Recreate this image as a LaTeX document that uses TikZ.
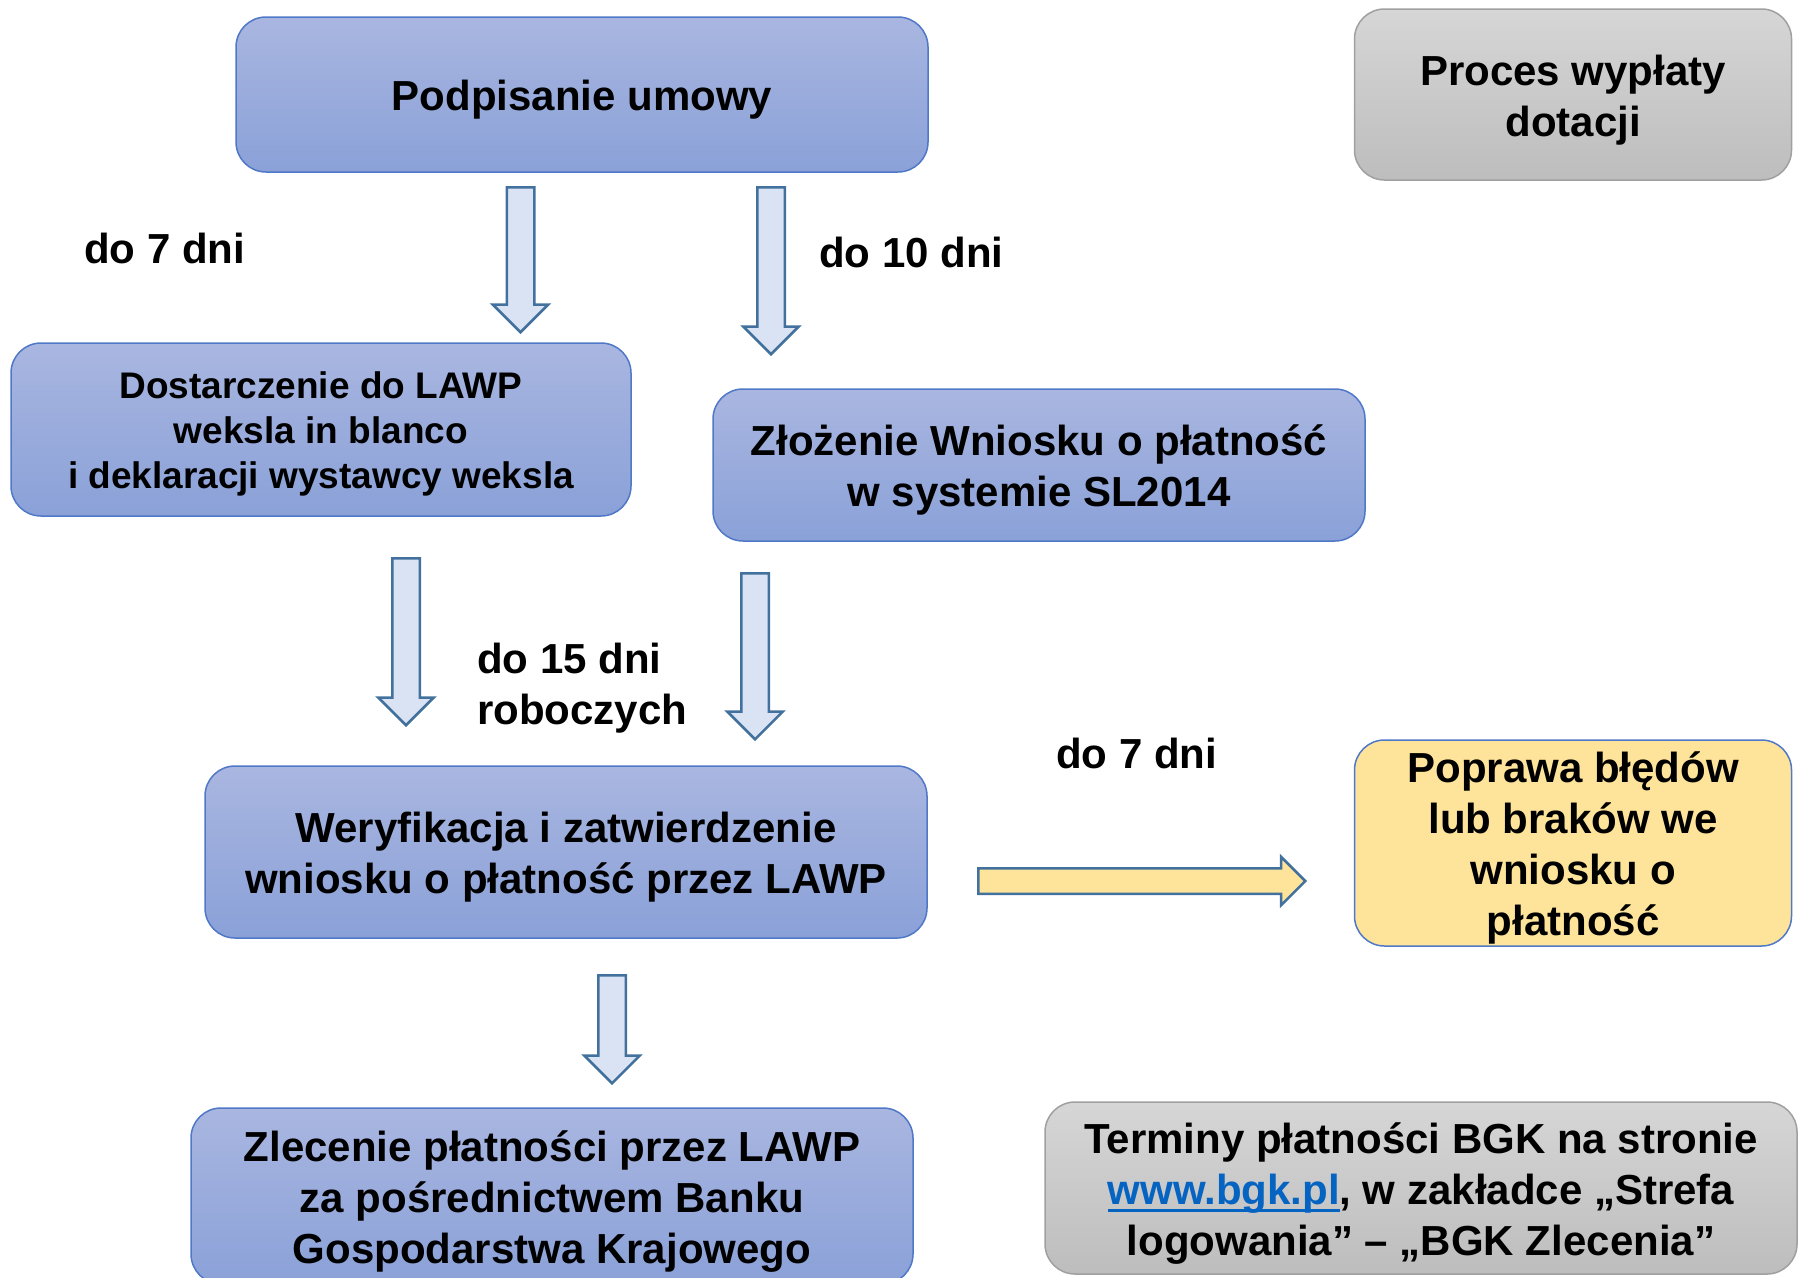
\documentclass[tikz,border=0pt]{standalone}
\usepackage{fontspec}
\setmainfont{Liberation Sans}
\usetikzlibrary{shapes.arrows}
\definecolor{boxtop}{RGB}{169,182,224}
\definecolor{boxbottom}{RGB}{138,161,216}
\definecolor{boxline}{RGB}{80,120,200}
\definecolor{graytop}{RGB}{214,214,214}
\definecolor{graybottom}{RGB}{189,189,189}
\definecolor{grayline}{RGB}{160,160,160}
\definecolor{paleyellow}{RGB}{254,228,154}
\definecolor{paleblue}{RGB}{218,227,243}
\definecolor{arrowline}{RGB}{65,113,156}
\definecolor{linkblue}{RGB}{5,99,193}
\newcommand\linkline[1]{\setbox0\hbox{#1}\rlap{\vrule width\wd0 height -5pt depth 8pt}\box0}
\newcommand\topstrut{\vrule width 0pt height 1.02em}
\newcommand\botstrut{\vrule width 0pt height 0pt depth 0.24em}

\begin{document}
\begin{tikzpicture}[x=1pt, y=-1pt,
        stepbox/.style={rectangle, rounded corners=30pt, draw=boxline, line width=1.5pt,
            top color=boxtop, bottom color=boxbottom, inner sep=0pt, align=center,
            font=\bfseries\fontsize{42}{51}\selectfont},
        graybox/.style={stepbox, draw=grayline, top color=graytop, bottom color=graybottom},
        notebox/.style={stepbox, top color=paleyellow, bottom color=paleyellow},
        daylabel/.style={inner sep=0pt, align=left, font=\bfseries\fontsize{42}{51}\selectfont},
        downarrow/.style={single arrow, draw=arrowline, line width=2.5pt, fill=paleblue,
            inner xsep=0pt, inner ysep=12.5pt, single arrow head extend=14pt,
            rotate=-90, anchor=tail}]
        \useasboundingbox (0,0) rectangle (1798,1277);
        % boxes
        \node[stepbox, minimum width=692pt, minimum height=155pt] (podpisanie) at (582,94.5)
            {\topstrut Podpisanie umowy\botstrut};
        \node[graybox, minimum width=437pt, minimum height=171pt] (proces) at (1573,94.5)
            {\topstrut Proces wypłaty\\dotacji\botstrut};
        \node[stepbox, minimum width=620pt, minimum height=173pt,
            font=\bfseries\fontsize{37}{45}\selectfont] (dostarczenie) at (321,429.5)
            {\topstrut Dostarczenie do LAWP\\weksla in blanco\\i deklaracji wystawcy weksla\botstrut};
        \node[stepbox, minimum width=652pt, minimum height=152pt] (zlozenie) at (1039,465)
            {\topstrut Złożenie Wniosku o płatność\\w systemie SL2014\botstrut};
        \node[stepbox, minimum width=722pt, minimum height=172pt] (weryfikacja) at (566,852)
            {\topstrut Weryfikacja i zatwierdzenie\\wniosku o płatność przez LAWP\botstrut};
        \node[notebox, minimum width=437pt, minimum height=206pt] (poprawa) at (1573,843)
            {\topstrut Poprawa błędów\\lub braków we\\wniosku o\\płatność\botstrut};
        \node[stepbox, minimum width=722pt, minimum height=176pt] (zlecenie) at (552,1196)
            {\topstrut Zlecenie płatności przez LAWP\\za pośrednictwem Banku\\Gospodarstwa Krajowego\botstrut};
        \node[graybox, minimum width=752pt, minimum height=172pt] (terminy) at (1421,1188)
            {\topstrut Terminy płatności BGK na stronie\\{\color{linkblue}\linkline{www.bgk.pl}}, w zakładce „Strefa\\logowania” – „BGK Zlecenia”\botstrut};
        % day labels
        \node[daylabel, anchor=west] (dni7a) at (84,248) {do 7 dni};
        \node[daylabel, anchor=west] (dni10) at (819,252) {do 10 dni};
        \node[daylabel, anchor=west] (dni15) at (477,688) {do 15 dni\\roboczych};
        \node[daylabel, anchor=west] (dni7b) at (1056,753) {do 7 dni};
        % arrows
        \node[downarrow, minimum height=145pt] (a1) at (520.5,186) {};
        \node[downarrow, minimum height=167pt] (a2) at (771,186) {};
        \node[downarrow, minimum height=167pt] (a3) at (406,557) {};
        \node[downarrow, minimum height=166pt] (a4) at (755,572) {};
        \node[downarrow, minimum height=108pt] (a5) at (612,974) {};
        \node[downarrow, minimum height=327pt, rotate=90, fill=paleyellow,
            inner ysep=11.5pt, single arrow head extend=11.5pt] (a6) at (977,881) {};
\end{tikzpicture}
\end{document}
